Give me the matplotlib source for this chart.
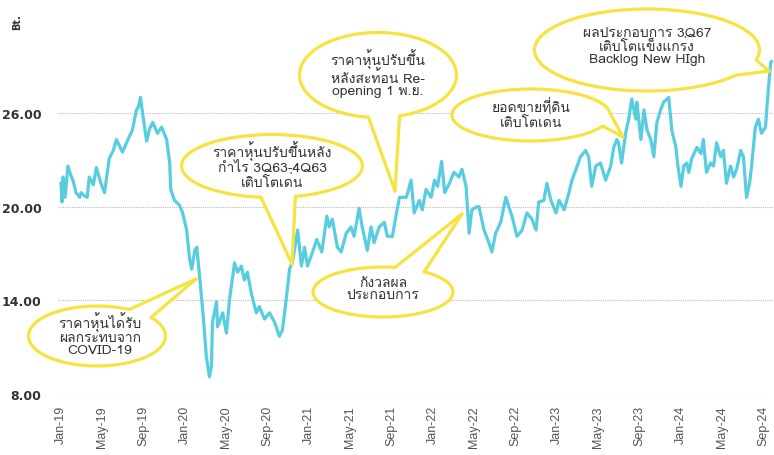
import numpy as np
import pandas as pd
import matplotlib
matplotlib.use('Agg')
import matplotlib.pyplot as plt
import matplotlib.dates as mdates
from matplotlib.patches import Ellipse, Polygon
from matplotlib.lines import Line2D
from matplotlib import font_manager
from matplotlib.ft2font import FT2Font

# ราคาหุ้น (บาท) อ่านจากกราฟ
dates = [
    '2019-01-01', '2019-01-04', '2019-01-07', '2019-01-13', '2019-01-21', '2019-01-30',
    '2019-02-05', '2019-02-14', '2019-02-25', '2019-03-01', '2019-03-10', '2019-03-19',
    '2019-03-25', '2019-04-06', '2019-04-15', '2019-04-27', '2019-05-09', '2019-05-23',
    '2019-06-04', '2019-06-13', '2019-06-22', '2019-07-01', '2019-07-15', '2019-07-30',
    '2019-08-11', '2019-08-17', '2019-08-23', '2019-08-29', '2019-09-10', '2019-09-19',
    '2019-09-28', '2019-10-12', '2019-10-24', '2019-11-08', '2019-11-17', '2019-11-20',
    '2019-12-01', '2019-12-16', '2019-12-25', '2020-01-06', '2020-01-15', '2020-01-21',
    '2020-01-30', '2020-02-05', '2020-02-14', '2020-02-23', '2020-03-04', '2020-03-13',
    '2020-03-19', '2020-03-22', '2020-04-03', '2020-04-06', '2020-04-21', '2020-05-02',
    '2020-05-11', '2020-05-26', '2020-06-04', '2020-06-15', '2020-06-24', '2020-07-03',
    '2020-07-14', '2020-07-29', '2020-08-07', '2020-08-22', '2020-09-06', '2020-09-21',
    '2020-10-05', '2020-10-14', '2020-10-26', '2020-11-04', '2020-11-13', '2020-11-28',
    '2020-12-09', '2020-12-18', '2020-12-27', '2021-01-11', '2021-01-23', '2021-02-07',
    '2021-02-22', '2021-03-01', '2021-03-10', '2021-03-25', '2021-04-05', '2021-04-20',
    '2021-05-04', '2021-05-13', '2021-05-28', '2021-06-06', '2021-06-21', '2021-07-02',
    '2021-07-11', '2021-07-26', '2021-08-10', '2021-08-19', '2021-09-03', '2021-09-15',
    '2021-09-24', '2021-10-14', '2021-10-28', '2021-11-06', '2021-11-21', '2021-11-30',
    '2021-12-11', '2021-12-26', '2022-01-05', '2022-01-14', '2022-01-26', '2022-02-04',
    '2022-02-18', '2022-03-03', '2022-03-18', '2022-03-27', '2022-04-08', '2022-04-17',
    '2022-04-25', '2022-05-10', '2022-05-16', '2022-05-31', '2022-06-14', '2022-06-23',
    '2022-07-04', '2022-07-19', '2022-08-03', '2022-08-12', '2022-08-21', '2022-09-05',
    '2022-09-20', '2022-10-04', '2022-10-19', '2022-10-31', '2022-11-08', '2022-11-23',
    '2022-12-02', '2022-12-14', '2022-12-29', '2023-01-07', '2023-01-22', '2023-02-05',
    '2023-02-14', '2023-02-26', '2023-03-11', '2023-03-26', '2023-04-04', '2023-04-13',
    '2023-04-25', '2023-05-09', '2023-05-24', '2023-06-08', '2023-06-17', '2023-06-26',
    '2023-07-01', '2023-07-10', '2023-07-22', '2023-07-31', '2023-08-09', '2023-08-21',
    '2023-08-24', '2023-09-05', '2023-09-14', '2023-09-23', '2023-10-04', '2023-10-13',
    '2023-10-22', '2023-11-02', '2023-11-11', '2023-11-26', '2023-12-05', '2023-12-17',
    '2023-12-23', '2024-01-01', '2024-01-09', '2024-01-18', '2024-01-24', '2024-02-02',
    '2024-02-17', '2024-02-29', '2024-03-07', '2024-03-16', '2024-03-28', '2024-04-06',
    '2024-04-15', '2024-04-27', '2024-05-05', '2024-05-14', '2024-05-26', '2024-06-04',
    '2024-06-13', '2024-06-25', '2024-07-03', '2024-07-12', '2024-07-21', '2024-07-27',
    '2024-08-07', '2024-08-16', '2024-08-25', '2024-09-06', '2024-09-12', '2024-09-21',
    '2024-09-24',
]
prices = [
    21.5, 20.3, 21.9, 20.6, 22.6, 22.0,
    21.7, 20.9, 20.6, 20.9, 20.7, 20.6,
    21.9, 21.4, 22.5, 21.6, 20.9, 23.1,
    23.6, 24.3, 23.9, 23.5, 24.2, 24.9,
    26.2, 26.4, 27.0, 26.0, 24.2, 25.0,
    25.4, 24.7, 25.1, 24.3, 22.8, 21.1,
    20.4, 20.1, 19.6, 18.5, 16.6, 16.0,
    17.2, 17.4, 15.3, 13.2, 10.4, 9.1,
    9.8, 12.6, 13.9, 12.3, 13.2, 11.9,
    14.0, 16.4, 15.8, 16.2, 15.3, 15.8,
    14.5, 13.2, 13.6, 12.8, 13.2, 12.6,
    11.7, 12.1, 14.2, 16.0, 16.5, 18.5,
    16.2, 17.4, 16.2, 17.1, 17.9, 17.1,
    19.4, 18.7, 19.2, 17.4, 17.1, 18.3,
    18.7, 18.1, 19.9, 18.7, 17.2, 18.7,
    17.7, 18.7, 19.0, 18.1, 18.1, 19.6,
    20.6, 20.6, 21.7, 19.6, 20.4, 19.8,
    21.1, 20.6, 21.7, 21.3, 22.9, 20.9,
    21.5, 22.2, 21.9, 22.4, 21.3, 18.3,
    19.8, 20.0, 20.0, 18.5, 17.7, 17.1,
    18.3, 19.0, 20.6, 20.0, 19.4, 18.1,
    18.5, 19.6, 19.2, 18.5, 20.3, 20.4,
    21.5, 20.4, 19.6, 20.4, 19.8, 20.9,
    21.7, 22.4, 23.2, 23.6, 23.2, 21.3,
    22.6, 22.8, 21.7, 22.6, 23.8, 24.3,
    24.1, 22.8, 24.7, 25.6, 26.9, 25.6,
    26.7, 24.3, 26.2, 24.9, 24.3, 23.2,
    25.4, 26.2, 26.7, 27.0, 24.9, 23.8,
    22.6, 21.3, 22.6, 22.8, 22.2, 23.1,
    23.8, 23.4, 24.3, 22.2, 22.8, 22.6,
    24.1, 23.2, 23.6, 21.5, 22.6, 21.9,
    22.4, 23.6, 23.2, 20.6, 21.5, 22.6,
    25.1, 25.6, 24.7, 25.1, 26.9, 29.2,
    29.3,
]

y_ticks = [8, 14, 20, 26]

notes = [
    'ราคาหุ้นได้รับ\nผลกระทบจาก\nCOVID-19',
    'ราคาหุ้นปรับขึ้นหลัง\nกำไร 3Q63-4Q63\nเติบโตเด่น',
    'ราคาหุ้นปรับขึ้น\nหลังสะท้อน Re-\nopening 1 พ.ย.',
    'ยอดขายที่ดิน\nเติบโตเด่น',
    'ผลประกอบการ 3Q67\nเติบโตแข็งแกร่ง\nBacklog New HIgh',
    'กังวลผล\nประกอบการ',
]

# หาฟอนต์ที่มีอักษรไทย
thai_font = None
for f in font_manager.fontManager.ttflist:
    try:
        if FT2Font(f.fname).get_char_index(ord('ก')):
            thai_font = f.name
            break
    except Exception:
        pass
note_family = ([thai_font] if thai_font else []) + ['DejaVu Sans']

W, H = 774, 456
fig = plt.figure(figsize=(W / 100, H / 100), dpi=100)
ax = fig.add_axes([58 / W, (H - 395) / H, 1 - 58 / W, 395 / H])

x = pd.to_datetime(dates)
ax.plot(x, prices, color='#58CDE0', lw=2.3, solid_joinstyle='round', zorder=3)

ax.set_ylim(8, 8 + 395 / 15.61)
ax.set_xlim(pd.Timestamp('2018-12-23'), pd.Timestamp('2024-10-01'))

ax.set_yticks(y_ticks)
ax.set_yticklabels([f'{v:.2f}' for v in y_ticks], fontsize=9, fontweight='bold',
                   color='#333333', family='DejaVu Sans')
ax.xaxis.set_major_locator(mdates.MonthLocator(bymonth=[1, 5, 9]))
ax.xaxis.set_major_formatter(mdates.DateFormatter('%b-%y'))
for lab in ax.get_xticklabels():
    lab.set_rotation(90)
    lab.set_fontsize(9)
    lab.set_color('#555555')
    lab.set_family('Liberation Sans')
ax.tick_params(axis='both', length=0)
ax.tick_params(axis='y', pad=12)
ax.tick_params(axis='x', pad=8)

ax.grid(axis='y', color='#bbbbbb', linestyle=(0, (1, 1)), linewidth=0.8)
ax.grid(axis='x', visible=False)
for s in ax.spines.values():
    s.set_visible(False)

fig.text(17 / W, 1 - 22 / H, 'Bt.', rotation=90, fontsize=7, fontweight='bold',
         color='#333333', ha='center', va='center')

# กล่องข้อความ: (กลางวงรี, ขนาด, มุมฐานหาง 2 มุม, ปลายหาง, ตำแหน่งข้อความ) หน่วยพิกเซล
yellow = '#F6E33F'
boxes = [
    ((97, 337), (137, 60), (62, 38), (196, 280), (100, 335)),
    ((272, 167), (181, 63), (-97, -75), (292, 265), (272, 166)),
    ((378, 76), (157, 85), (-97, -74), (395, 192), (378, 74)),
    ((531, 116), (158, 52), (6, -25), (623, 138), (531, 115)),
    ((647, 51), (225, 82), (-14, -38), (769, 72), (647, 47)),
    ((383, 293), (140, 50), (80, 54), (462, 215), (383, 290)),
]


def px(p):
    return (p[0] / W, 1 - p[1] / H)


def on_ellipse(c, size, ang, k=1.0):
    t = np.radians(ang)
    return (c[0] + k * size[0] / 2 * np.cos(t), c[1] - k * size[1] / 2 * np.sin(t))


for text, (c, size, angs, tip, tpos) in zip(notes, boxes):
    fig.add_artist(Ellipse(px(c), size[0] / W, size[1] / H, transform=fig.transFigure,
                           facecolor='white', edgecolor=yellow, lw=2.3, zorder=5))
    inner = [on_ellipse(c, size, a, 0.85) for a in angs]
    edge = [on_ellipse(c, size, a) for a in angs]
    fig.add_artist(Polygon([px(inner[0]), px(edge[0]), px(tip), px(edge[1]), px(inner[1])],
                           closed=True, transform=fig.transFigure,
                           facecolor='white', edgecolor='none', zorder=6))
    for b in edge:
        fig.add_artist(Line2D([px(b)[0], px(tip)[0]], [px(b)[1], px(tip)[1]],
                              transform=fig.transFigure, color=yellow, lw=2.3,
                              solid_capstyle='round', zorder=7))
    fig.text(*px(tpos), text, ha='center', va='center', multialignment='center',
             fontsize=10, color='#333333', family=note_family, linespacing=1.0, zorder=8)

fig.savefig('out.png', dpi=100)
